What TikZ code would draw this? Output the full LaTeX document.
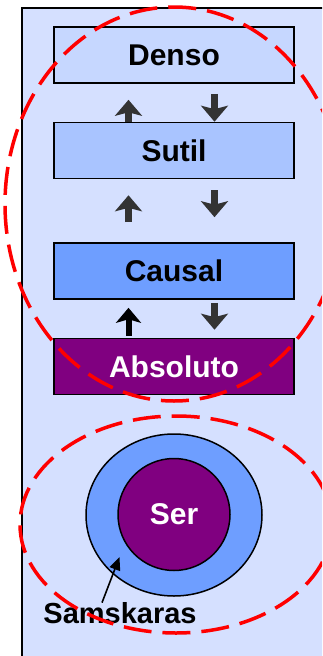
\documentclass[tikz,border=0pt]{standalone}
\usepackage{fontspec}
\setmainfont{Liberation Sans}
\usetikzlibrary{arrows.meta,shapes.geometric}
\definecolor{panelc}{HTML}{D5E0FF}
\definecolor{densoc}{HTML}{C6D7FF}
\definecolor{sutilc}{HTML}{A9C4FF}
\definecolor{causalc}{HTML}{6E9EFF}
\definecolor{purplec}{HTML}{800080}
\definecolor{arrowc}{HTML}{333333}
\definecolor{redc}{HTML}{FF0000}
\tikzset{
  level/.style={draw=black, line width=1.6pt, minimum width=240pt, minimum height=56pt, inner sep=0pt,
    font=\fontsize{30}{35}\selectfont\bfseries},
  blockarrow/.style={draw=arrowc, line width=7pt, -{Stealth[length=16pt,width=27pt,inset=3.5pt]}},
  blockarrowblack/.style={draw=black, line width=6pt, -{Stealth[length=15pt,width=25pt,inset=3.5pt]}},
  redell/.style={draw=redc, line width=3.5pt, dash pattern=on 28pt off 11pt},
  label/.style={font=\fontsize{29}{34}\selectfont\bfseries, inner sep=0pt},
}
\begin{document}
\begin{tikzpicture}[x=1pt,y=-1pt]
\useasboundingbox (0,0) rectangle (322,656);
\clip (0,0) rectangle (322,656);
\fill[white] (0,0) rectangle (322,656);
% panel
\draw[fill=panelc, line width=1.5pt] (22,8) rectangle (345,675);
% level boxes
\node[level, fill=densoc] (denso) at (174,55) {Denso};
\node[level, fill=sutilc] (sutil) at (174,150.5) {Sutil};
\node[level, fill=causalc] (causal) at (174,271) {Causal};
\node[level, fill=purplec, text=white] (abs) at (174,366.5) {Absoluto};
% arrows
\draw[blockarrow] ([xshift=-45.5pt]sutil.north) -- ([xshift=-45.5pt,yshift=-16pt]denso.south);
\draw[blockarrow] ([xshift=40.5pt,yshift=-10pt]denso.south) -- ([xshift=40.5pt]sutil.north);
\draw[blockarrow] ([xshift=-45.5pt,yshift=20pt]causal.north) -- ([xshift=-45.5pt,yshift=-16pt]sutil.south);
\draw[blockarrow] ([xshift=40.5pt,yshift=-11pt]sutil.south) -- ([xshift=40.5pt,yshift=25pt]causal.north);
\draw[blockarrowblack] ([xshift=-45.5pt,yshift=2pt]abs.north) -- ([xshift=-45.5pt,yshift=-8pt]causal.south);
\draw[blockarrow] ([xshift=40.5pt,yshift=-3pt]causal.south) -- ([xshift=40.5pt,yshift=8pt]abs.north);
% rings
\node[ellipse, draw=black, line width=1.5pt, fill=causalc, minimum width=176pt, minimum height=162pt, inner sep=0pt] (ring) at (174,515) {};
\node[circle, draw=black, line width=1.5pt, fill=purplec, minimum size=112pt, inner sep=0pt] (ser) at (174,514.5) {};
\node[label, text=white, font=\fontsize{30}{35}\selectfont\bfseries] (sertext) at (174,514.5) {Ser};
% samskaras
\node[label] (sam) at (120,613.5) {Samskaras};
\coordinate (samtip) at (119.5,557);
\draw[black, line width=1.6pt, -{Triangle[length=13pt,width=11pt]}] ([xshift=-18pt]sam.north) -- (samtip);
% red dashed ellipses
\draw[redell] (174,204) ellipse [x radius=169, y radius=197];
\draw[redell] (176,524.5) ellipse [x radius=156, y radius=108.5];
\end{tikzpicture}
\end{document}
